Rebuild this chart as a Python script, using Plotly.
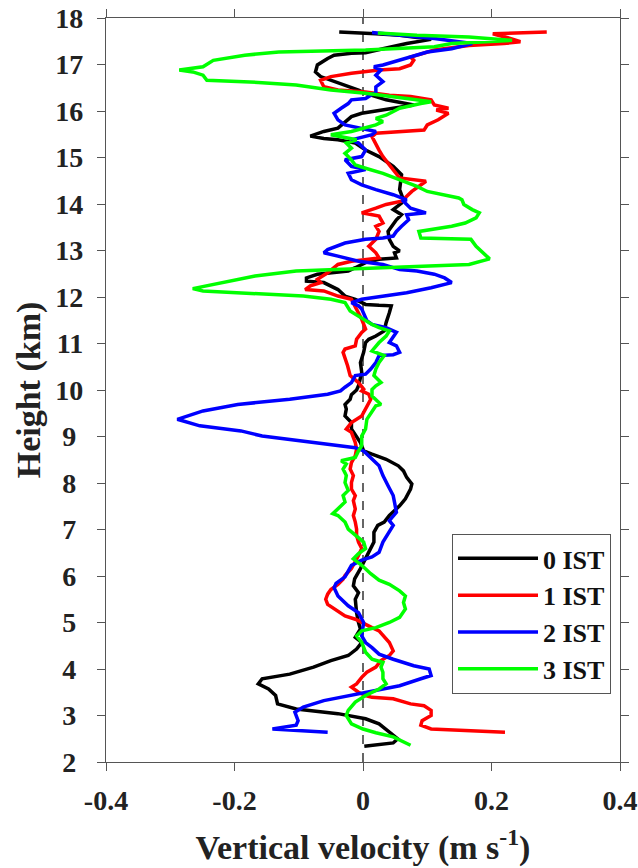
import plotly.graph_objects as go

# ---- Data (height in km, vertical velocity in m/s) ----
h0 = [2.34, 2.41, 2.50, 2.82, 2.93, 3.04, 3.14, 3.25, 3.43, 3.57, 3.68, 3.79, 3.89, 4.04, 4.18, 4.29,
      4.43, 4.57, 4.68, 4.86, 5.00, 5.21, 5.50, 5.64, 5.79, 5.94, 6.16, 6.37, 6.51, 6.73, 6.94, 7.09,
      7.16, 7.30, 7.51, 7.66, 7.87, 7.98, 8.12, 8.26, 8.37, 8.51, 8.62, 8.69, 8.87, 9.01, 9.16, 9.30,
      9.37, 9.44, 9.59, 9.69, 9.80, 9.90, 10.00, 10.09, 10.38, 10.59, 10.81, 11.02, 11.09, 11.16,
      11.27, 11.45, 11.66, 11.81, 11.82, 11.84, 11.95, 12.02, 12.16, 12.31, 12.34, 12.41, 12.49,
      12.52, 12.56, 12.63, 12.74, 12.81, 12.84, 12.95, 12.99, 13.09, 13.24, 13.41, 13.66, 13.77,
      13.88, 14.02, 14.09, 14.31, 14.63, 14.81, 15.02, 15.16, 15.31, 15.38, 15.41, 15.46, 15.56,
      15.63, 15.88, 15.95, 16.02, 16.09, 16.13, 16.24, 16.38, 16.45, 16.56, 16.66, 16.74, 16.84,
      16.99, 17.13, 17.20, 17.24, 17.25, 17.34, 17.45, 17.54, 17.63, 17.66, 17.70]
w0 = [0.002, 0.047, 0.054, 0.025, 0.004, -0.039, -0.104, -0.133, -0.136, -0.147, -0.163, -0.157, -0.114,
      -0.077, -0.050, -0.023, -0.010, -0.002, -0.012, -0.004, -0.007, -0.010, -0.012, -0.007, -0.015,
      -0.013, -0.004, 0.004, 0.009, 0.017, 0.017, 0.023, 0.033, 0.041, 0.057, 0.066, 0.074, 0.076,
      0.068, 0.063, 0.055, 0.036, 0.014, 0.001, -0.004, -0.010, -0.018, -0.018, -0.023, -0.028, -0.026,
      -0.028, -0.020, -0.018, -0.010, -0.007, -0.002, -0.004, 0.001, 0.004, 0.009, 0.020, 0.033, 0.036,
      0.041, 0.044, 0.025, 0.004, -0.012, -0.028, -0.039, -0.061, -0.088, -0.088, -0.071, -0.050,
      -0.023, -0.012, 0.004, 0.025, 0.052, 0.049, 0.057, 0.047, 0.041, 0.039, 0.052, 0.060, 0.047,
      0.060, 0.063, 0.057, 0.060, 0.047, 0.025, 0.004, -0.012, -0.039, -0.061, -0.082, -0.061, -0.039,
      -0.018, -0.002, 0.031, 0.057, 0.079, 0.036, 0.004, -0.007, -0.028, -0.050, -0.066, -0.074,
      -0.071, -0.055, -0.045, -0.018, 0.004, 0.031, 0.068, 0.106, 0.057, 0.020, -0.037]

h1 = [2.64, 2.71, 2.79, 2.89, 3.00, 3.11, 3.21, 3.25, 3.36, 3.39, 3.43, 3.50, 3.61, 3.68, 3.82, 3.93,
      4.04, 4.18, 4.29, 4.39, 4.57, 4.71, 4.82, 4.89, 5.00, 5.07, 5.14, 5.29, 5.39, 5.50, 5.61, 5.71,
      5.82, 5.93, 6.01, 6.16, 6.30, 6.44, 6.59, 6.73, 6.87, 7.01, 7.16, 7.30, 7.44, 7.62, 7.73, 7.87,
      8.01, 8.16, 8.30, 8.44, 8.59, 8.73, 8.87, 9.09, 9.16, 9.30, 9.44, 9.59, 9.80, 9.91, 9.98, 10.02,
      10.16, 10.31, 10.52, 10.81, 10.88, 10.95, 11.09, 11.24, 11.31, 11.52, 11.66, 11.81, 11.95,
      12.02, 12.13, 12.16, 12.24, 12.31, 12.38, 12.52, 12.70, 12.77, 12.81, 12.84, 12.95, 13.09,
      13.24, 13.41, 13.52, 13.59, 13.74, 13.81, 13.91, 13.99, 14.06, 14.27, 14.49, 14.56, 14.84,
      15.02, 15.16, 15.31, 15.45, 15.52, 15.56, 15.59, 15.70, 15.81, 15.95, 16.02, 16.06, 16.13,
      16.24, 16.31, 16.34, 16.41, 16.45, 16.52, 16.66, 16.74, 16.81, 16.88, 16.91, 16.99, 17.09,
      17.16, 17.31, 17.41, 17.45, 17.49, 17.56, 17.66, 17.70]
w1 = [0.221, 0.106, 0.090, 0.092, 0.106, 0.106, 0.095, 0.074, 0.047, 0.014, 0.004, -0.007, -0.018, -0.010,
      -0.002, 0.006, 0.020, 0.028, 0.041, 0.047, 0.041, 0.033, 0.025, 0.014, -0.002, -0.012, -0.028,
      -0.045, -0.055, -0.058, -0.055, -0.050, -0.039, -0.031, -0.028, -0.018, -0.012, -0.007, -0.002,
      -0.007, -0.010, -0.010, -0.012, -0.015, -0.012, -0.015, -0.012, -0.018, -0.018, -0.015, -0.020,
      -0.018, -0.012, -0.010, -0.012, -0.018, -0.026, -0.018, -0.002, 0.004, 0.012, 0.009, -0.002,
      0.001, -0.007, -0.020, -0.024, -0.031, -0.028, -0.012, -0.010, -0.002, 0.004, -0.002, -0.007,
      -0.012, -0.018, -0.039, -0.061, -0.090, -0.082, -0.066, -0.071, -0.055, -0.039, -0.018, 0.004,
      0.025, 0.020, 0.009, 0.020, 0.025, 0.020, 0.031, 0.025, -0.002, 0.020, 0.036, 0.060, 0.076,
      0.098, 0.057, 0.041, 0.031, 0.025, 0.020, 0.014, 0.020, 0.057, 0.095, 0.100, 0.117, 0.133,
      0.114, 0.133, 0.111, 0.106, 0.074, 0.041, 0.004, -0.039, -0.061, -0.066, -0.050, -0.018, 0.025,
      0.057, 0.074, 0.079, 0.074, 0.111, 0.165, 0.219, 0.245, 0.229, 0.202, 0.286]

h2 = [2.64, 2.71, 2.79, 2.89, 3.07, 3.18, 3.32, 3.43, 3.54, 3.64, 3.79, 3.86, 4.00, 4.07, 4.21, 4.32,
      4.46, 4.57, 4.71, 5.00, 5.21, 5.36, 5.57, 5.75, 5.84, 5.98, 6.23, 6.34, 6.41, 6.51, 6.73, 6.94,
      7.09, 7.19, 7.37, 7.59, 7.73, 7.94, 8.16, 8.37, 8.51, 8.69, 8.76, 8.87, 9.01, 9.12, 9.23, 9.37,
      9.55, 9.69, 9.80, 9.91, 9.98, 10.06, 10.16, 10.31, 10.34, 10.45, 10.59, 10.74, 10.76, 10.81,
      10.95, 11.02, 11.16, 11.24, 11.34, 11.41, 11.49, 11.74, 11.81, 11.88, 11.95, 12.02, 12.09,
      12.20, 12.31, 12.41, 12.49, 12.56, 12.59, 12.70, 12.77, 12.88, 12.95, 13.02, 13.16, 13.24,
      13.27, 13.31, 13.41, 13.52, 13.66, 13.77, 13.81, 13.91, 14.06, 14.09, 14.20, 14.31, 14.41,
      14.52, 14.66, 14.74, 14.81, 14.95, 15.02, 15.16, 15.31, 15.38, 15.49, 15.56, 15.63, 15.70,
      15.81, 15.95, 16.06, 16.16, 16.24, 16.27, 16.41, 16.52, 16.63, 16.77, 16.88, 16.95, 16.99,
      17.09, 17.16, 17.27, 17.34, 17.45, 17.56, 17.63, 17.69]
w2 = [-0.055, -0.141, -0.104, -0.101, -0.106, -0.093, -0.061, -0.018, 0.025, 0.057, 0.090, 0.106, 0.103,
      0.079, 0.047, 0.025, 0.014, 0.004, -0.002, 0.001, -0.007, -0.023, -0.039, -0.045, -0.042, -0.028,
      -0.018, -0.002, 0.014, 0.025, 0.031, 0.041, 0.047, 0.041, 0.052, 0.049, 0.047, 0.039, 0.031,
      0.025, 0.014, 0.001, -0.012, -0.077, -0.157, -0.190, -0.254, -0.289, -0.249, -0.195, -0.114,
      -0.055, -0.035, -0.028, -0.018, -0.012, 0.004, 0.012, 0.020, 0.025, 0.047, 0.057, 0.052, 0.041,
      0.047, 0.052, 0.036, 0.014, 0.006, -0.002, -0.007, -0.018, -0.002, 0.031, 0.068, 0.106, 0.138,
      0.127, 0.111, 0.084, 0.057, 0.031, -0.007, -0.039, -0.061, -0.055, -0.028, 0.004, 0.031, 0.047,
      0.052, 0.060, 0.071, 0.068, 0.098, 0.074, 0.063, 0.068, 0.047, 0.020, -0.002, -0.018, -0.023,
      0.004, -0.018, -0.028, -0.002, 0.004, -0.007, -0.018, 0.014, 0.020, -0.007, -0.028, -0.039,
      -0.045, -0.034, -0.023, -0.018, 0.004, 0.020, 0.020, 0.031, 0.020, 0.028, 0.017, 0.031, 0.057,
      0.074, 0.100, 0.138, 0.170, 0.111, 0.057, 0.014]

h3 = [2.36, 2.54, 2.63, 2.71, 2.82, 3.00, 3.11, 3.29, 3.43, 3.57, 3.68, 3.79, 3.93, 4.04, 4.14, 4.21,
      4.36, 4.57, 4.71, 4.82, 4.89, 5.00, 5.11, 5.29, 5.43, 5.57, 5.68, 5.82, 5.91, 6.05, 6.23, 6.37,
      6.48, 6.59, 6.73, 6.87, 7.01, 7.16, 7.30, 7.34, 7.44, 7.59, 7.73, 7.84, 8.01, 8.16, 8.30, 8.41,
      8.48, 8.55, 8.69, 8.80, 9.01, 9.16, 9.37, 9.51, 9.66, 9.69, 9.87, 10.01, 10.09, 10.16, 10.31,
      10.45, 10.59, 10.74, 10.84, 11.02, 11.16, 11.27, 11.34, 11.41, 11.49, 11.59, 11.70, 11.88,
      11.95, 12.02, 12.06, 12.09, 12.13, 12.18, 12.27, 12.38, 12.45, 12.56, 12.61, 12.66, 12.70,
      12.82, 12.95, 13.09, 13.24, 13.27, 13.41, 13.52, 13.59, 13.70, 13.81, 13.88, 13.99, 14.09,
      14.13, 14.27, 14.38, 14.52, 14.66, 14.77, 14.84, 14.95, 15.09, 15.20, 15.31, 15.38, 15.49,
      15.56, 15.63, 15.70, 15.77, 15.84, 15.91, 16.06, 16.16, 16.20, 16.27, 16.34, 16.38, 16.45,
      16.56, 16.61, 16.64, 16.66, 16.77, 16.84, 16.88, 16.95, 17.09, 17.20, 17.27, 17.31, 17.38,
      17.45, 17.52, 17.59, 17.63, 17.68]
w3 = [0.074, 0.047, 0.020, 0.000, -0.018, -0.026, -0.023, -0.012, 0.004, 0.025, 0.036, 0.031, 0.031,
      0.028, 0.031, 0.014, 0.004, -0.002, -0.010, -0.002, 0.020, 0.041, 0.057, 0.066, 0.063, 0.066,
      0.057, 0.041, 0.025, 0.012, -0.002, -0.015, -0.007, 0.004, 0.001, -0.012, -0.023, -0.028, -0.039,
      -0.047, -0.039, -0.028, -0.031, -0.023, -0.028, -0.026, -0.031, -0.026, -0.034, -0.012, -0.007,
      -0.002, -0.002, 0.004, 0.006, 0.012, 0.020, 0.028, 0.014, 0.014, 0.020, 0.028, 0.017, 0.020,
      0.025, 0.033, 0.014, 0.025, 0.036, 0.041, 0.025, 0.014, 0.004, -0.007, -0.020, -0.028, -0.050,
      -0.093, -0.157, -0.211, -0.249, -0.265, -0.232, -0.195, -0.168, -0.104, 0.004, 0.111, 0.165,
      0.197, 0.186, 0.176, 0.168, 0.090, 0.087, 0.138, 0.159, 0.176, 0.181, 0.170, 0.157, 0.154,
      0.149, 0.100, 0.084, 0.057, 0.031, 0.004, -0.012, -0.018, -0.028, -0.018, -0.026, -0.010, -0.050,
      -0.018, 0.004, 0.020, 0.031, 0.020, 0.036, 0.057, 0.090, 0.106, 0.068, 0.031, 0.004, -0.050,
      -0.104, -0.157, -0.211, -0.243, -0.249, -0.265, -0.286, -0.249, -0.233, -0.184, -0.131, 0.004,
      0.111, 0.138, 0.232, 0.165, 0.084, 0.023]

series_names = ["0 IST", "1 IST", "2 IST", "3 IST"]
series_colors = ["#000000", "#ff0000", "#0000ff", "#00ff00"]
heights = [h0, h1, h2, h3]
velocities = [w0, w1, w2, w3]

x_tickvals = [-0.4, -0.2, 0, 0.2, 0.4]
x_ticktext = ["-0.4", "-0.2", "0", "0.2", "0.4"]
y_tickvals = list(range(2, 19))
# single-digit labels are centred under the two-digit ones (quarter-em trailing space)
y_ticktext = [str(v) if v >= 10 else str(v) + "\u2005" for v in y_tickvals]

FONT = "Liberation Serif, Times New Roman, serif"

fig = go.Figure()
for name, col, hh, ww in zip(series_names, series_colors, heights, velocities):
    fig.add_trace(go.Scatter(x=ww, y=hh, mode="lines", name=name,
                             line=dict(color=col, width=3.5)))

fig.add_shape(type="line", xref="x", yref="paper", x0=0, x1=0, y0=0, y1=1,
              line=dict(color="#000000", width=1.2, dash="dash"), layer="below")

axis_common = dict(showline=True, linecolor="#555555", linewidth=1.2, mirror="ticks",
                   ticks="outside", ticklen=8, tickwidth=1.2, tickcolor="#555555",
                   showgrid=False, zeroline=False, automargin=False,
                   tickfont=dict(family=FONT, size=28, color="#222222", weight="bold"))

fig.update_xaxes(range=[-0.4, 0.4], tickvals=x_tickvals, ticktext=x_ticktext,
                 ticklabelstandoff=5,
                 title=dict(text="Vertical velocity (m s<sup>-1</sup>)",
                            font=dict(family=FONT, size=34, color="#222222", weight="bold"),
                            standoff=20),
                 **axis_common)
fig.update_yaxes(range=[2, 18], tickvals=y_tickvals, ticktext=y_ticktext,
                 ticklabelstandoff=8,
                 title=dict(text="Height (km)",
                            font=dict(family=FONT, size=34, color="#222222", weight="bold"),
                            standoff=4),
                 **axis_common)

fig.update_layout(
    width=638, height=868,
    margin=dict(l=106, r=18, t=18, b=106, autoexpand=False),
    paper_bgcolor="white", plot_bgcolor="white",
    showlegend=True,
    legend=dict(x=0.9825, y=0.3065, xanchor="right", yanchor="top",
                bordercolor="#555555", borderwidth=1, bgcolor="white",
                font=dict(family=FONT, size=26, color="#111111", weight="bold"),
                itemwidth=80, tracegroupgap=0),
)

fig.write_html("out.html")
